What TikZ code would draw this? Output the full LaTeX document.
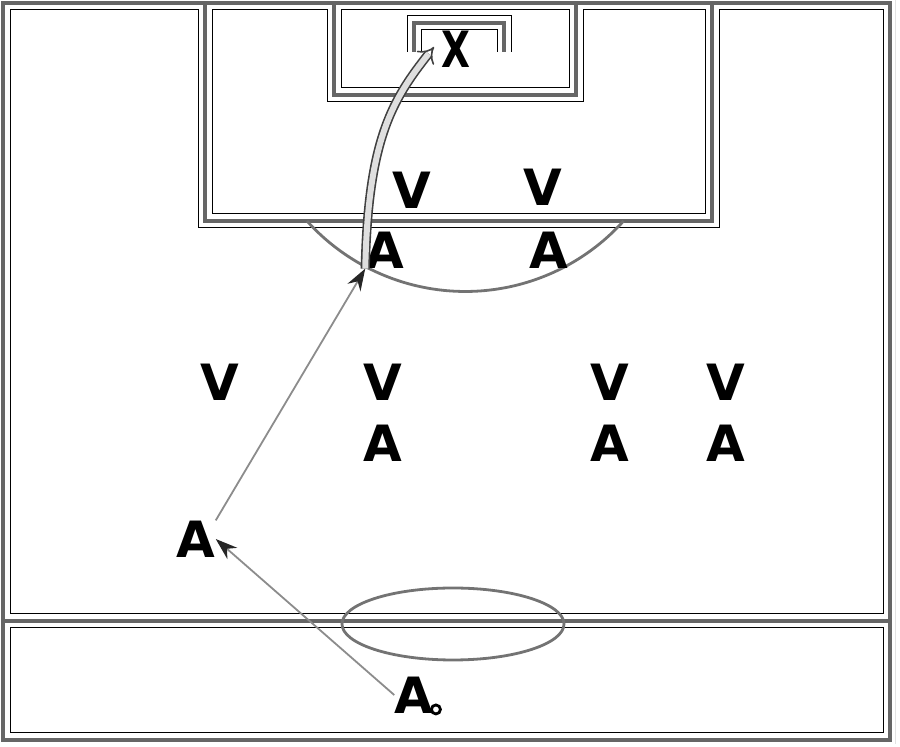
\documentclass[tikz,border=0pt]{standalone}
\usepackage{fontspec}
\setsansfont{DejaVu Sans}
\usepackage{tikz}
\usetikzlibrary{arrows.meta}
\usetikzlibrary{positioning}
\tikzstyle{player}=[font=\sffamily\bfseries\fontsize{25}{25}\selectfont,inner sep=0pt]
\tikzstyle{run}=[draw=black!45,line width=0.9pt,-{Stealth[length=11pt,width=7.5pt,black!85]}]

\begin{document}
\begin{tikzpicture}[
  x=0.5pt, y=-0.5pt,
  zone/.style={draw=black!55, line width=1.4pt},
  shot/.style={draw=black!75, line width=0.8pt, double=gray!25, double distance=3pt, -Implies},
  ball/.style={circle, draw, line width=1.4pt, minimum size=4.5pt, inner sep=0pt},
]
\useasboundingbox (0,0) rectangle (900,747);
\clip (0,0) rectangle (895,744);
% pitch lines: outline, gap, core
\foreach \w/\c in {7.5pt/black, 6.5pt/white, 2.2pt/black!60}
  \draw[line width=\w, draw=\c]
    (3,3) rectangle (890,740)
    (205,3) |- (712,221) -- (712,3)
    (334,3) |- (576,95) -- (576,3)
    (3,621) -- (890,621)
    (414,52) |- (504,23) -- (504,52);
% penalty arc and centre ellipse
\coordinate (arcwest) at (307,221);
\draw[zone] (arcwest) arc[start angle=138, end angle=42, radius=213];
\draw[zone] (453,624) ellipse [x radius=111, y radius=36];

  \node[player] (keeper) at (456,49) {\scalebox{0.75}[1]{X}};
  \node[player] (backl) at (412,190) {V};
  \node[player] (backr) at (543,187) {V};
  \node[player] (striker) at (385,250) {A};
  \node[player] (forward) at (549,250) {A};
  \node[player] (mid1) at (220,382) {V};
  \node[player] (mid2) at (383,382) {V};
  \node[player] (mid3) at (610,382) {V};
  \node[player] (mid4) at (726,382) {V};
  \node[player,below=12pt of mid2] (att2) {A};
  \node[player,below=12pt of mid3] (att3) {A};
  \node[player,below=12pt of mid4] (att4) {A};
  \node[player] (winger) at (196,539) {A};
  \node[player] (carrier) at (414,695) {A};
  \node[ball,anchor=south west] (ball) at ([xshift=-1pt]carrier.south east) {};

\draw[run] (carrier.west) -- (winger.east);
\draw[run] (winger.north east) -- (striker.south west);
\coordinate (target) at (434,47);
\draw[shot] (striker.south west) .. controls (368,140) and (392,100) .. (target);
\end{tikzpicture}
\end{document}
